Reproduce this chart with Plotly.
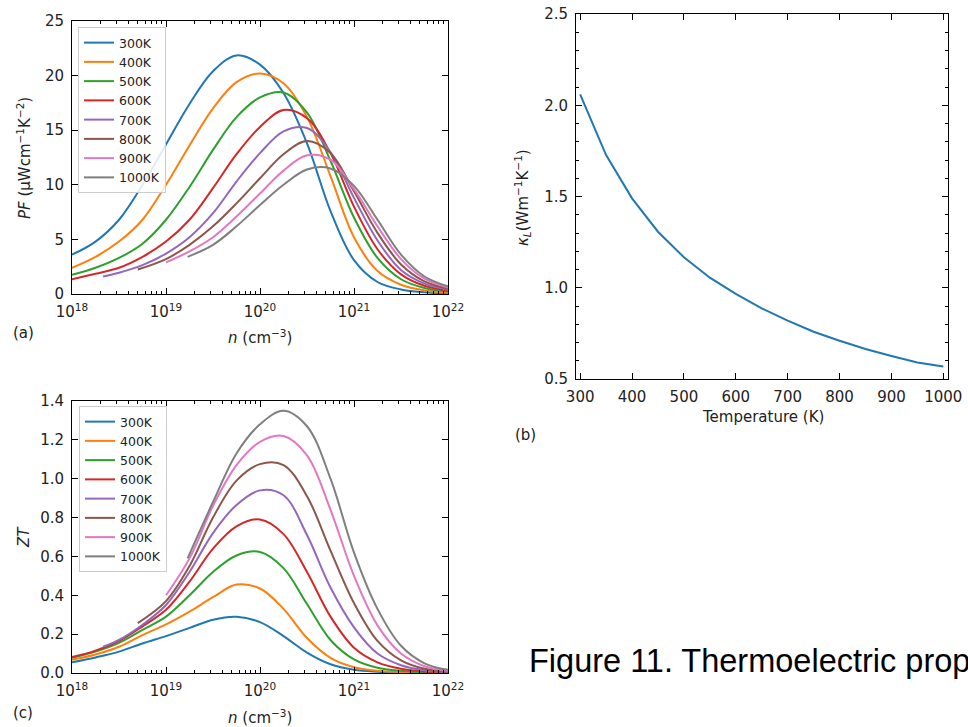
import numpy as np
import plotly.graph_objects as go

W, H = 968, 727

temps = ["300K", "400K", "500K", "600K", "700K", "800K", "900K", "1000K"]
colors = ["#1f77b4", "#ff7f0e", "#2ca02c", "#d62728",
          "#9467bd", "#8c564b", "#e377c2", "#7f7f7f"]

# log10 of carrier concentration n (cm^-3) at which values were read
logn_300 = [18, 18.25, 18.5, 18.75, 19, 19.25, 19.5, 19.75, 20, 20.25, 20.5, 20.75, 21, 21.25, 21.5, 21.75, 22]
logn_700 = [18.33, 18.5, 18.75, 19, 19.25, 19.5, 19.75, 20, 20.25, 20.5, 20.75, 21, 21.25, 21.5, 21.75, 22]
logn_800 = [18.7, 19, 19.25, 19.5, 19.75, 20, 20.25, 20.5, 20.75, 21, 21.25, 21.5, 21.75, 22]
logn_900 = [19.0, 19.25, 19.5, 19.75, 20, 20.25, 20.5, 20.75, 21, 21.25, 21.5, 21.75, 22]
logn_1000 = [19.23, 19.5, 19.75, 20, 20.25, 20.5, 20.75, 21, 21.25, 21.5, 21.75, 22]

# (a) power factor PF (uW cm^-1 K^-2)
pf_300 = [3.6, 4.8, 6.8, 10.0, 13.7, 17.4, 20.4, 21.85, 21.0, 18.4, 13.8, 7.6, 3.1, 1.1, 0.42, 0.16, 0.06]
pf_400 = [2.4, 3.4, 4.8, 6.8, 10.0, 13.6, 17.0, 19.4, 20.2, 19.3, 16.2, 10.8, 5.2, 2.1, 0.85, 0.33, 0.13]
pf_500 = [1.75, 2.4, 3.3, 4.6, 6.8, 9.8, 13.2, 16.2, 18.0, 18.45, 16.6, 12.2, 7.0, 3.3, 1.35, 0.55, 0.22]
pf_600 = [1.35, 1.85, 2.4, 3.4, 4.8, 6.8, 9.7, 12.8, 15.3, 16.85, 16.1, 12.9, 8.0, 4.1, 1.8, 0.75, 0.32]
pf_700 = [1.6, 1.95, 2.65, 3.7, 5.2, 7.4, 10.3, 12.9, 14.9, 15.2, 13.0, 8.8, 4.9, 2.2, 0.95, 0.42]
pf_800 = [2.25, 3.2, 4.5, 6.2, 8.3, 10.6, 12.8, 14.0, 12.9, 9.4, 5.6, 2.7, 1.15, 0.5]
pf_900 = [2.9, 3.9, 5.2, 7.1, 9.2, 11.3, 12.7, 12.3, 9.6, 6.2, 3.2, 1.4, 0.6]
pf_1000 = [3.4, 4.5, 6.2, 8.15, 10.0, 11.4, 11.5, 9.9, 6.8, 3.6, 1.6, 0.7]

# (c) figure of merit ZT
zt_300 = [0.055, 0.08, 0.11, 0.152, 0.19, 0.232, 0.274, 0.289, 0.262, 0.19, 0.105, 0.045, 0.017, 0.007, 0.003, 0.001, 0.0]
zt_400 = [0.068, 0.095, 0.135, 0.195, 0.25, 0.316, 0.39, 0.455, 0.435, 0.33, 0.18, 0.078, 0.03, 0.012, 0.005, 0.002, 0.001]
zt_500 = [0.078, 0.11, 0.155, 0.222, 0.29, 0.40, 0.52, 0.605, 0.623, 0.54, 0.355, 0.17, 0.07, 0.027, 0.011, 0.004, 0.002]
zt_600 = [0.082, 0.115, 0.165, 0.24, 0.325, 0.47, 0.64, 0.755, 0.79, 0.715, 0.52, 0.29, 0.13, 0.055, 0.022, 0.008, 0.003]
zt_700 = [0.135, 0.17, 0.248, 0.35, 0.52, 0.72, 0.865, 0.94, 0.915, 0.71, 0.44, 0.235, 0.1, 0.04, 0.014, 0.005]
zt_800 = [0.257, 0.37, 0.55, 0.8, 0.99, 1.075, 1.07, 0.91, 0.63, 0.36, 0.165, 0.065, 0.022, 0.007]
zt_900 = [0.40, 0.59, 0.86, 1.07, 1.19, 1.22, 1.12, 0.84, 0.5, 0.245, 0.1, 0.035, 0.011]
zt_1000 = [0.59, 0.88, 1.13, 1.28, 1.35, 1.27, 1.0, 0.62, 0.33, 0.14, 0.05, 0.016]

# (b) lattice thermal conductivity
temperature = [300, 350, 400, 450, 500, 550, 600, 650, 700, 750, 800, 850, 900, 950, 1000]
kappa_L = [2.06, 1.727, 1.49, 1.307, 1.167, 1.055, 0.966, 0.887, 0.82, 0.759, 0.71, 0.664, 0.626, 0.59, 0.568]

logn_sets = [logn_300, logn_300, logn_300, logn_300, logn_700, logn_800, logn_900, logn_1000]
pf_sets = [pf_300, pf_400, pf_500, pf_600, pf_700, pf_800, pf_900, pf_1000]
zt_sets = [zt_300, zt_400, zt_500, zt_600, zt_700, zt_800, zt_900, zt_1000]

FONT = "DejaVu Sans"
SMOOTH = 1.0
fig = go.Figure()

for name, col, lx, pf in zip(temps, colors, logn_sets, pf_sets):
    n = 10 ** np.array(lx, dtype=float)
    fig.add_trace(go.Scatter(x=n, y=pf, mode="lines", name=name,
                             line=dict(color=col, width=2, shape="spline", smoothing=SMOOTH),
                             xaxis="x", yaxis="y", legend="legend"))
for name, col, lx, zt in zip(temps, colors, logn_sets, zt_sets):
    n = 10 ** np.array(lx, dtype=float)
    fig.add_trace(go.Scatter(x=n, y=zt, mode="lines", name=name,
                             line=dict(color=col, width=2, shape="spline", smoothing=SMOOTH),
                             xaxis="x3", yaxis="y3", legend="legend2"))

fig.add_trace(go.Scatter(x=temperature, y=kappa_L, mode="lines", showlegend=False,
                         line=dict(color="#1f77b4", width=2), xaxis="x2", yaxis="y2"))


def px(x):
    return x / W


def py(y):
    return 1 - y / H


tickfont = dict(family=FONT, size=15, color="#222")
base = dict(showline=True, linecolor="black", linewidth=1, mirror="allticks",
            ticks="inside", ticklen=6, tickwidth=1, tickcolor="black", automargin=False,
            showgrid=False, zeroline=False, tickfont=tickfont, ticklabelstandoff=4)

dec = [1e18, 1e19, 1e20, 1e21, 1e22]
dec_text = ["10<sup>18</sup>", "10<sup>19</sup>", "10<sup>20</sup>", "10<sup>21</sup>", "10<sup>22</sup>"]
minor_vals = [k * 10.0 ** d for d in range(18, 22) for k in range(2, 10)]
logx = dict(base, type="log", range=[18, 22], tickmode="array", tickvals=dec, ticktext=dec_text,
            minor=dict(tickmode="array", tickvals=minor_vals, ticks="inside", ticklen=3,
                       tickcolor="black", showgrid=False))

legend_common = dict(font=dict(family=FONT, size=12.5, color="#222"), bgcolor="rgba(255,255,255,0.85)",
                     bordercolor="#cccccc", borderwidth=1, xanchor="left", yanchor="top",
                     tracegroupgap=0, itemwidth=30)

fig.update_layout(
    template="none",
    width=W, height=H, margin=dict(l=0, r=0, t=0, b=0, autoexpand=False),
    paper_bgcolor="white", plot_bgcolor="white",
    font=dict(family=FONT, size=15, color="#222"),
    xaxis=dict(logx, domain=[px(72), px(448)], anchor="y"),
    yaxis=dict(base, domain=[py(294), py(21)], range=[0, 25], tickvals=[0, 5, 10, 15, 20, 25], anchor="x"),
    xaxis2=dict(base, domain=[px(576), px(948)], range=[292, 1009], tickvals=list(range(300, 1001, 100)), anchor="y2"),
    yaxis2=dict(base, domain=[py(379), py(14)], range=[0.5, 2.5], tickvals=[0.5, 1.0, 1.5, 2.0, 2.5],
                tickformat=".1f", anchor="x2",
                minor=dict(dtick=0.1, ticks="inside", ticklen=3, tickcolor="black", showgrid=False)),
    xaxis3=dict(logx, domain=[px(72), px(448)], anchor="y3"),
    yaxis3=dict(base, domain=[py(673), py(401)], range=[0, 1.4], tickvals=[0, 0.2, 0.4, 0.6, 0.8, 1.0, 1.2, 1.4],
                tickformat=".1f", anchor="x3"),
    legend=dict(legend_common, x=px(78), y=py(27)),
    legend2=dict(legend_common, x=px(79), y=py(406)),
)

ann = []


def add_text(text, x, y, size=15, angle=0, xanchor="center", family=FONT, color="#222"):
    ann.append(dict(text=text, x=px(x), y=py(y), xref="paper", yref="paper", showarrow=False,
                    textangle=angle, xanchor=xanchor, yanchor="middle",
                    font=dict(family=family, size=size, color=color)))


add_text("<i>PF</i> (μWcm<sup>−1</sup>K<sup>−2</sup>)", 24, 158, angle=-90)
add_text("<i>n</i> (cm<sup>−3</sup>)", 260, 337)
add_text("(a)", 11, 333, xanchor="left")
add_text("<i>κ<sub>L</sub></i>(Wm<sup>−1</sup>K<sup>−1</sup>)", 522, 198, angle=-90)
add_text("Temperature (K)", 763, 417)
add_text("(b)", 513, 435, xanchor="left")
add_text("<i>ZT</i>", 24, 537, angle=-90)
add_text("<i>n</i> (cm<sup>−3</sup>)", 260, 717)
add_text("(c)", 11, 713, xanchor="left")
add_text("Figure 11. Thermoelectric properties", 527, 661, size=32.5, xanchor="left",
         family="Liberation Sans", color="#000")

fig.update_layout(annotations=ann)
fig.write_html("out.html")
